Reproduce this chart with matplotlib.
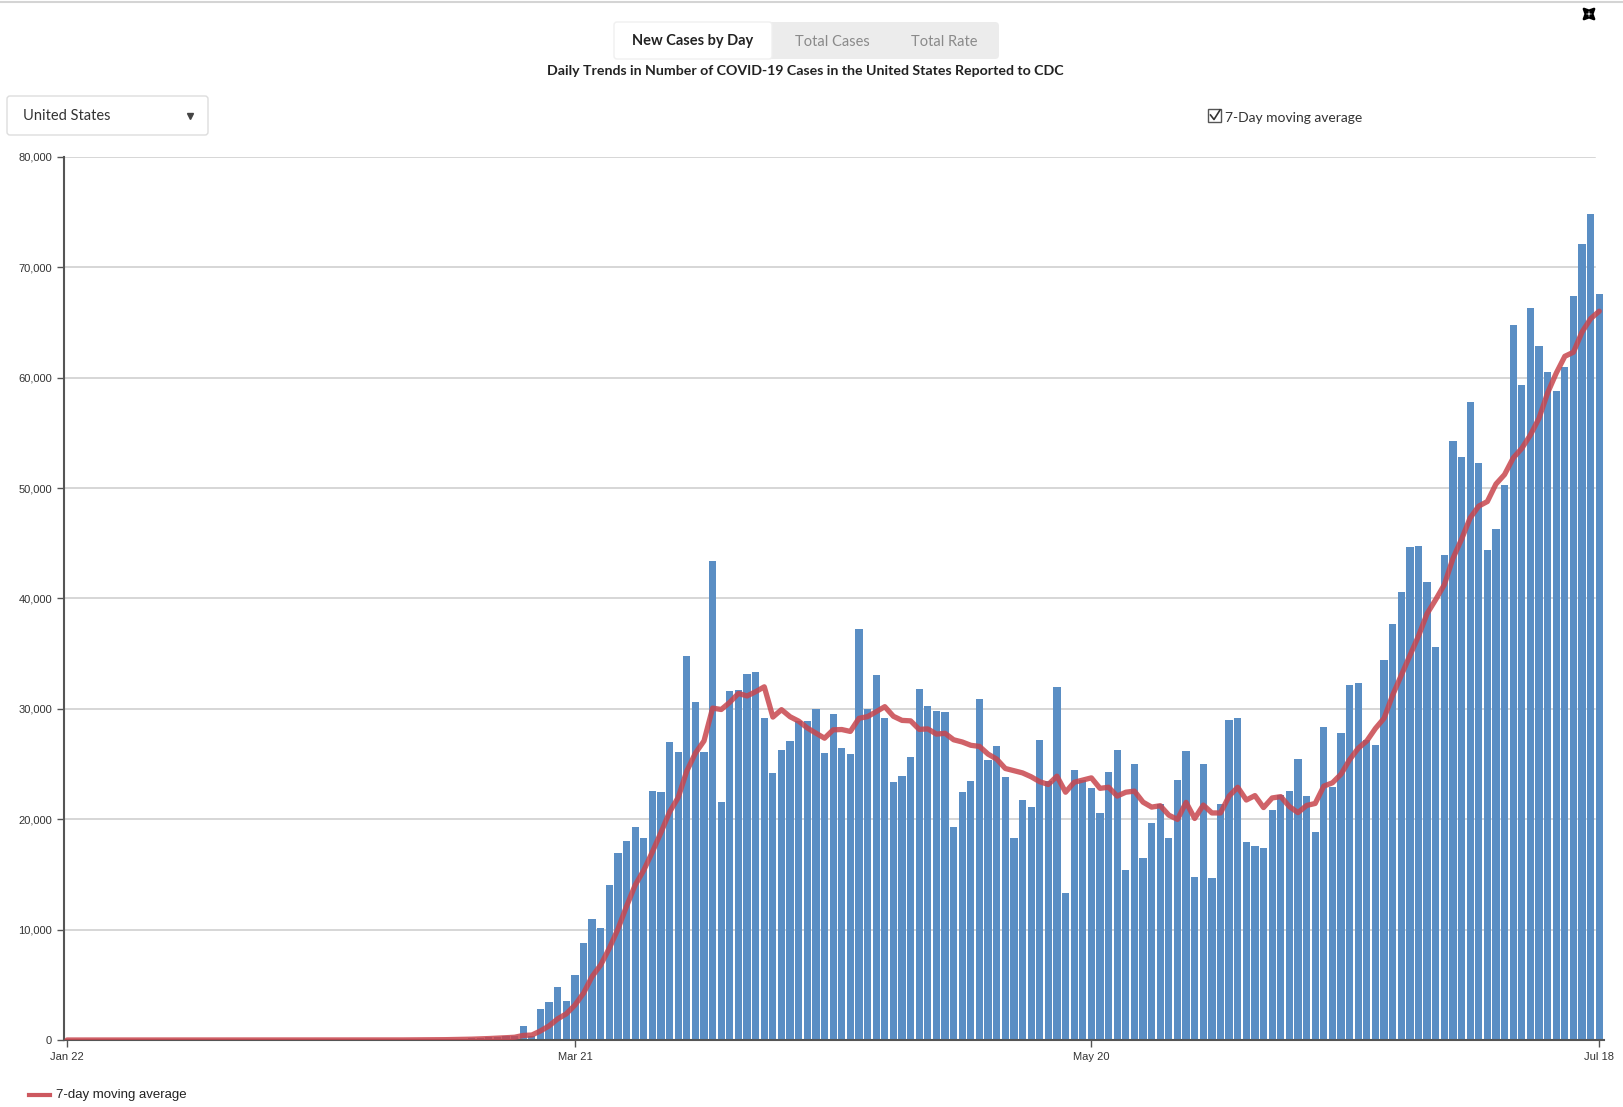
import matplotlib
matplotlib.use("Agg")
import matplotlib.pyplot as plt
import matplotlib.patches as mpatches
import pandas as pd

# daily new cases, Jan 22 - Jul 18
new_cases = [
    0, 1, 0, 1, 0, 0, 1, 0, 2, 1,
    0, 1, 0, 0, 1, 0, 0, 0, 1, 0,
    0, 0, 0, 0, 0, 1, 0, 0, 0, 0,
    0, 0, 0, 3, 1, 5, 4, 8, 10,
    20, 30, 40, 50, 60, 80, 100, 120, 150, 200, 250,
    300, 350, 400, 1250, 400, 2800, 3430, 4780, 3530, 5920,
    8830, 11000, 10130, 14030, 16900, 18000, 19300, 18300, 22600, 22500,
    27000, 26100, 34800, 30600, 26100, 43400, 21600, 31600, 31700, 33200,
    33300, 29200, 24200, 26300, 27100, 28900, 28900, 30000, 26000, 29500,
    26500, 25900, 37200, 30000, 33100, 29200, 23400, 23900, 25600, 31800,
    30300, 29800, 29700, 19300, 22500, 23500, 30900, 25400, 26600, 23800,
    18300, 21700, 21100, 27200, 23500, 32000, 13300, 24500, 23600, 22800,
    20600, 24300, 26300, 15400, 25000, 16500, 19700, 21400, 18300, 23600,
    26200, 14800, 25000, 14700, 21400, 29000, 29200, 17900, 17600, 17400,
    20800, 22200, 22600, 25500, 22100, 18800, 28400, 22900, 27800, 32200,
    32300, 27200, 26700, 34400, 37700, 40600, 44700, 44800, 41500, 35600,
    43900, 54300, 52800, 57800, 52300, 44400, 46300, 50300, 64800, 59300,
    66300, 62900, 60500, 58800, 61000, 67400, 72100, 74800, 67600,
]

# 7-day moving average line
moving_avg = [
    0, 0, 0, 0, 0, 0, 0, 0, 1, 1,
    1, 1, 1, 1, 1, 0, 0, 0, 0, 0,
    0, 0, 0, 0, 0, 0, 0, 0, 0, 0,
    0, 0, 0, 0, 1, 1, 2, 3, 4,
    7, 11, 15, 19, 23, 31, 43, 57, 75, 101, 131,
    167, 207, 250, 414, 450, 821, 1276, 1916, 2370, 3159,
    4241, 5756, 6803, 8317, 10049, 12116, 14027, 15380, 17037, 18804,
    20657, 21971, 24371, 25986, 27100, 30071, 29943, 30600, 31400, 31171,
    31557, 32000, 29257, 29929, 29286, 28886, 28271, 27800, 27343, 28100,
    28129, 27957, 29143, 29300, 29743, 30200, 29329, 28957, 28914, 28143,
    28186, 27714, 27786, 27200, 27000, 26700, 26600, 25900, 25450, 24600,
    24400, 24200, 23850, 23400, 23150, 23900, 22450, 23350, 23550, 23750,
    22800, 22900, 22100, 22450, 22550, 21550, 21100, 21229, 20371, 19986,
    21529, 20071, 21286, 20571, 20570, 22100, 22900, 21743, 22143, 21057,
    21930, 22050, 21150, 20600, 21250, 21430, 23000, 23300, 24080, 25400,
    26430, 27100, 28230, 29150, 31250, 33050, 34830, 36600, 38629, 39900,
    41250, 43630, 45370, 47300, 48371, 48786, 50370, 51230, 52730, 53600,
    54814, 56329, 58629, 60414, 61943, 62314, 64143, 65357, 66029,
]

tick_dates = ["2020-01-22", "2020-03-21", "2020-05-20", "2020-07-18"]
tick_labels = ["Jan 22", "Mar 21", "May 20", "Jul 18"]
tabs = ["New Cases by Day", "Total Cases", "Total Rate"]
title = "Daily Trends in Number of COVID-19 Cases in the United States Reported to CDC"

dates = pd.date_range("2020-01-22", periods=len(new_cases), freq="D")
days = list(range(len(new_cases)))
tick_pos = [(pd.Timestamp(t) - dates[0]).days for t in tick_dates]

W, H = 1623, 1107
fig = plt.figure(figsize=(W / 100, H / 100), dpi=100, facecolor="white")

bar_color = "#5a8ec4"
line_color = "#c8464e"
ui_font = ["Lato", "DejaVu Sans"]
ax_font = ["Liberation Sans", "DejaVu Sans"]

# ---- chart
ax = fig.add_axes([64 / W, 67 / H, (1604 - 64) / W, (1040 - 157) / H])
ax.bar(days, new_cases, width=0.84, color=bar_color, zorder=2)
ax.plot(days, moving_avg, color=line_color, lw=3.8, alpha=0.85, zorder=3,
        solid_capstyle="round", solid_joinstyle="round")

ax.set_xlim(-0.35, len(new_cases) - 0.45)
ax.set_ylim(0, 80000)
yt = list(range(0, 80001, 10000))
ax.set_yticks(yt)
ax.set_yticklabels([f"{v:,}" for v in yt], fontfamily=ax_font)
for v in yt[1:]:
    ax.axhline(v, xmax=0.994, color="#cccccc", lw=1.1, zorder=0)
ax.set_xticks(tick_pos)
ax.set_xticklabels(tick_labels, fontfamily=ax_font)
for s in ["top", "right"]:
    ax.spines[s].set_visible(False)
for s in ["left", "bottom"]:
    ax.spines[s].set_color("#555555")
    ax.spines[s].set_linewidth(1.5)
ax.tick_params(labelsize=8, colors="#555555", labelcolor="#333333", length=5, width=1)
ax.set_facecolor("none")

# ---- page elements (pixel coords overlay)
ov = fig.add_axes([0, 0, 1, 1], zorder=5)
ov.set_xlim(0, W)
ov.set_ylim(H, 0)
ov.axis("off")
ov.patch.set_alpha(0)

ov.plot([0, W], [2, 2], color="#d4d4d4", lw=1.5)

ov.add_patch(mpatches.FancyBboxPatch((614, 22), 385, 37, boxstyle="round,pad=0,rounding_size=4",
                                     fc="#ececec", ec="none"))
ov.add_patch(mpatches.FancyBboxPatch((614, 22), 158, 37, boxstyle="round,pad=0,rounding_size=3",
                                     fc="white", ec="#f0f0f0", lw=1))
ov.text(693, 41.5, tabs[0], ha="center", va="center", fontsize=10.5, fontweight="bold",
        color="#222222", family=ui_font)
ov.text(832, 41.5, tabs[1], ha="center", va="center", fontsize=10.5, color="#8a8a8a", family=ui_font)
ov.text(944, 41.5, tabs[2], ha="center", va="center", fontsize=10.5, color="#8a8a8a", family=ui_font)

ov.text(805, 71, title, ha="center", va="center", fontsize=10.2, fontweight="bold",
        color="#222222", family=ui_font)

# location dropdown
ov.add_patch(mpatches.FancyBboxPatch((7, 96), 201, 39, boxstyle="round,pad=0,rounding_size=3",
                                     fc="white", ec="#dddddd", lw=1))
ov.text(23, 116, "United States", ha="left", va="center", fontsize=10.5, color="#333333",
        family=ui_font)
ov.plot([190], [116], marker="v", ms=4, color="#444444")

# moving-average checkbox
ov.add_patch(mpatches.Rectangle((1208, 109), 13, 13, fc="white", ec="#555555", lw=1))
ov.plot([1210.5, 1214, 1220], [115, 119.5, 110], color="#333333", lw=1.2)
ov.text(1225, 117.5, "7-Day moving average", ha="left", va="center", fontsize=10,
        color="#333333", family=ui_font)

# expand icon
cx, cy = 1589, 14
for dx, dy in [(1, 1), (1, -1), (-1, 1), (-1, -1)]:
    ov.annotate("", xy=(cx + dx * 7, cy + dy * 7), xytext=(cx + dx * 1.5, cy + dy * 1.5),
                arrowprops=dict(arrowstyle="-|>", color="black", lw=1.8, mutation_scale=7,
                                shrinkA=0, shrinkB=0))

# legend
ov.plot([29, 50], [1095, 1095], color=line_color, lw=3, alpha=0.9)
ov.text(56, 1095, "7-day moving average", ha="left", va="center", fontsize=9.5,
        color="#222222", family=ax_font)

fig.savefig("out.png", dpi=100, facecolor="white")
